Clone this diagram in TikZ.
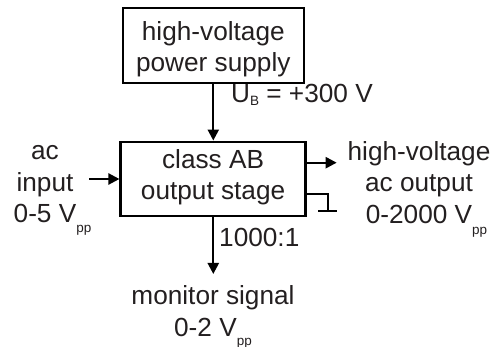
\documentclass[tikz,border=0pt]{standalone}
\usepackage{fontspec}
\setmainfont{Liberation Sans}
\usetikzlibrary{arrows.meta}
\definecolor{ink}{HTML}{231F20}
\newcommand\subr[2]{\rlap{\raisebox{-#1}{\fontsize{13.5}{14}\selectfont #2}}}
\newcommand\subn[2]{\raisebox{-#1}{\fontsize{13.5}{14}\selectfont #2}}
\newcommand\topst[1]{\rule{0pt}{#1}}
\newcommand\botst[1]{\rule[-#1]{0pt}{#1}}
\begin{document}
\begin{tikzpicture}[x=1pt,y=-1pt,
  every node/.style={font=\fontsize{26.2}{31.5}\selectfont, text=ink},
  box/.style={draw=black, line width=2.3pt, inner sep=0pt, align=center},
  txt/.style={inner sep=0pt, align=center},
  wire/.style={line width=2.3pt, draw=black},
  arr/.style={wire, -{Triangle[length=11pt,width=11pt]}}]
\useasboundingbox (0,0) rectangle (493,347);
\node[box, minimum width=181.3pt, minimum height=75pt] (hv) at (213.3,45.5)
  {\topst{27.5pt}high-voltage\\power supply\botst{6pt}};
\node[box, minimum width=185pt, minimum height=74pt] (stage) at (213.1,178.7)
  {\topst{20pt}class AB\\output stage\botst{9pt}};
\node[txt] (in) at (45,188.5)
  {\topst{20pt}ac\\input\\0-5 V\subr{10pt}{pp}\botst{14pt}};
\node[txt] (out) at (419,188.75)
  {\topst{20pt}high-voltage\\ac output\\0-2000 V\subr{11pt}{pp}\botst{14pt}};
\node[txt] (monitor) at (213,317.75)
  {\topst{20pt}monitor signal\\0-2 V\subn{9pt}{pp}\botst{14pt}};
\node[txt, anchor=base west] (ub) at (231,103) {U\subn{3pt}{B} = +300 V};
\node[txt, anchor=base west] (ratio) at (219,246.5) {1000:1};
\draw[arr] (hv.south) -- (hv.south |- stage.north);
\coordinate (inS) at (89.3,179);
\draw[arr] (inS) -- (inS -| stage.west);
\coordinate (outE) at (336.7,162.7);
\draw[arr] (outE -| stage.east) -- (outE);
\coordinate (mon) at (213.3,274);
\draw[arr] (stage.south -| mon) -- (mon);
\coordinate (g1) at (328.3,194.3);
\coordinate (g2) at (328.3,210.7);
\draw[wire] (g1 -| stage.east) -- (g1) -- (g2);
\draw[wire] ([xshift=-10pt]g2) -- ([xshift=9pt]g2);
\end{tikzpicture}
\end{document}
